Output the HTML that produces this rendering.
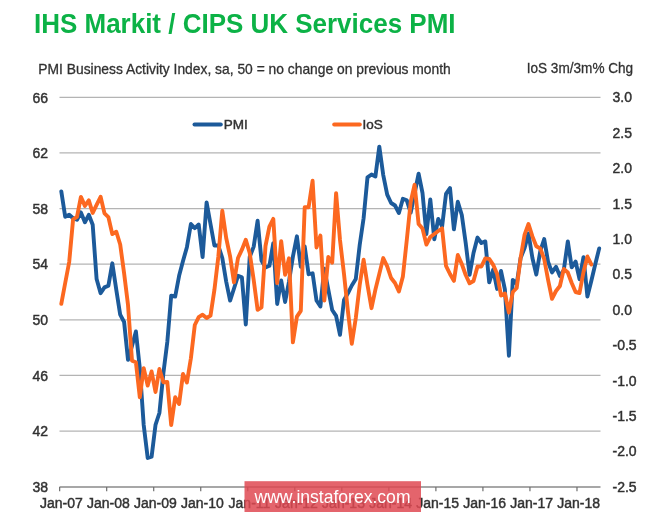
<!DOCTYPE html>
<html><head><meta charset="utf-8"><style>
html,body{margin:0;padding:0;background:#fff;width:665px;height:512px;overflow:hidden}
svg{display:block;filter:blur(0.55px);font-family:"Liberation Sans",sans-serif}
.ax{font-size:14px;fill:#303030;stroke:#363636;stroke-width:0.45px}
.lg{font-size:13.5px;fill:#303030;stroke:#363636;stroke-width:0.45px}
.title{font-size:27px;font-weight:bold;fill:#0cb246}
.hdr{font-size:14.2px;fill:#303030;stroke:#363636;stroke-width:0.3px}
.hdr2{font-size:14.3px;fill:#303030;stroke:#363636;stroke-width:0.3px}
.wm{font-size:18.5px;fill:#fff}
</style></head><body>
<svg width="665" height="512" viewBox="0 0 665 512">
<line x1="59.5" y1="97.30" x2="600.5" y2="97.30" stroke="#b4b4b4" stroke-width="1.3"/>
<line x1="59.5" y1="152.93" x2="600.5" y2="152.93" stroke="#b4b4b4" stroke-width="1.3"/>
<line x1="59.5" y1="208.56" x2="600.5" y2="208.56" stroke="#b4b4b4" stroke-width="1.3"/>
<line x1="59.5" y1="264.19" x2="600.5" y2="264.19" stroke="#b4b4b4" stroke-width="1.3"/>
<line x1="59.5" y1="319.82" x2="600.5" y2="319.82" stroke="#b4b4b4" stroke-width="1.3"/>
<line x1="59.5" y1="375.45" x2="600.5" y2="375.45" stroke="#b4b4b4" stroke-width="1.3"/>
<line x1="59.5" y1="431.08" x2="600.5" y2="431.08" stroke="#b4b4b4" stroke-width="1.3"/>
<line x1="59.5" y1="487.00" x2="600.5" y2="487.00" stroke="#8a8a8a" stroke-width="1.4"/>
<line x1="59.65" y1="487.00" x2="59.65" y2="491.30" stroke="#6e6e6e" stroke-width="1.2"/>
<line x1="106.68" y1="487.00" x2="106.68" y2="491.30" stroke="#6e6e6e" stroke-width="1.2"/>
<line x1="153.71" y1="487.00" x2="153.71" y2="491.30" stroke="#6e6e6e" stroke-width="1.2"/>
<line x1="200.74" y1="487.00" x2="200.74" y2="491.30" stroke="#6e6e6e" stroke-width="1.2"/>
<line x1="247.77" y1="487.00" x2="247.77" y2="491.30" stroke="#6e6e6e" stroke-width="1.2"/>
<line x1="294.80" y1="487.00" x2="294.80" y2="491.30" stroke="#6e6e6e" stroke-width="1.2"/>
<line x1="341.83" y1="487.00" x2="341.83" y2="491.30" stroke="#6e6e6e" stroke-width="1.2"/>
<line x1="388.86" y1="487.00" x2="388.86" y2="491.30" stroke="#6e6e6e" stroke-width="1.2"/>
<line x1="435.89" y1="487.00" x2="435.89" y2="491.30" stroke="#6e6e6e" stroke-width="1.2"/>
<line x1="482.92" y1="487.00" x2="482.92" y2="491.30" stroke="#6e6e6e" stroke-width="1.2"/>
<line x1="529.95" y1="487.00" x2="529.95" y2="491.30" stroke="#6e6e6e" stroke-width="1.2"/>
<line x1="576.98" y1="487.00" x2="576.98" y2="491.30" stroke="#6e6e6e" stroke-width="1.2"/>
<text x="48" y="102.60" text-anchor="end" class="ax">66</text>
<text x="48" y="158.23" text-anchor="end" class="ax">62</text>
<text x="48" y="213.86" text-anchor="end" class="ax">58</text>
<text x="48" y="269.49" text-anchor="end" class="ax">54</text>
<text x="48" y="325.12" text-anchor="end" class="ax">50</text>
<text x="48" y="380.75" text-anchor="end" class="ax">46</text>
<text x="48" y="436.38" text-anchor="end" class="ax">42</text>
<text x="48" y="492.01" text-anchor="end" class="ax">38</text>
<text x="612.5" y="102.30" class="ax">3.0</text>
<text x="612.5" y="137.70" class="ax">2.5</text>
<text x="612.5" y="173.10" class="ax">2.0</text>
<text x="612.5" y="208.50" class="ax">1.5</text>
<text x="612.5" y="243.90" class="ax">1.0</text>
<text x="612.5" y="279.30" class="ax">0.5</text>
<text x="612.5" y="314.71" class="ax">0.0</text>
<text x="612.5" y="350.11" class="ax">-0.5</text>
<text x="612.5" y="385.51" class="ax">-1.0</text>
<text x="612.5" y="420.91" class="ax">-1.5</text>
<text x="612.5" y="456.31" class="ax">-2.0</text>
<text x="612.5" y="491.71" class="ax">-2.5</text>
<text x="61.35" y="508.00" text-anchor="middle" class="ax">Jan-07</text>
<text x="108.38" y="508.00" text-anchor="middle" class="ax">Jan-08</text>
<text x="155.41" y="508.00" text-anchor="middle" class="ax">Jan-09</text>
<text x="202.44" y="508.00" text-anchor="middle" class="ax">Jan-10</text>
<text x="249.47" y="508.00" text-anchor="middle" class="ax">Jan-11</text>
<text x="296.50" y="508.00" text-anchor="middle" class="ax">Jan-12</text>
<text x="343.53" y="508.00" text-anchor="middle" class="ax">Jan-13</text>
<text x="390.56" y="508.00" text-anchor="middle" class="ax">Jan-14</text>
<text x="437.59" y="508.00" text-anchor="middle" class="ax">Jan-15</text>
<text x="484.62" y="508.00" text-anchor="middle" class="ax">Jan-16</text>
<text x="531.65" y="508.00" text-anchor="middle" class="ax">Jan-17</text>
<text x="578.68" y="508.00" text-anchor="middle" class="ax">Jan-18</text>
<polyline points="61.3,191.4 65.2,216.8 69.2,214.8 73.1,218.3 77.0,219.8 80.9,212.4 84.9,222.3 88.8,214.8 92.7,224.8 96.6,279.0 100.6,293.2 104.5,287.4 108.4,285.7 112.3,263.3 116.3,289.9 120.2,314.7 124.1,322.0 128.0,359.9 132.0,346.0 135.9,331.5 139.8,368.1 143.7,425.0 147.7,458.0 151.6,456.7 155.5,424.9 159.4,413.0 163.4,373.0 167.3,342.0 171.2,295.7 175.2,296.5 179.1,275.8 183.0,261.0 186.9,247.2 190.9,224.0 194.8,228.1 198.7,224.5 202.6,257.1 206.6,202.4 210.5,224.0 214.4,245.5 218.3,245.5 222.3,258.0 226.2,281.6 230.1,300.6 234.0,288.5 238.0,275.8 241.9,277.4 245.8,324.5 249.7,257.0 253.7,246.6 257.6,220.8 261.5,260.5 265.5,267.4 269.4,265.8 273.3,243.2 277.2,304.0 281.2,280.5 285.1,302.0 289.0,281.5 292.9,256.6 296.9,236.3 300.8,266.7 304.7,246.4 308.6,274.2 312.6,273.3 316.5,300.5 320.4,306.5 324.3,268.8 328.3,289.6 332.2,310.0 336.1,315.8 340.0,334.8 344.0,299.9 347.9,293.3 351.8,285.5 355.8,278.9 359.7,245.0 363.6,218.3 367.5,177.3 371.5,174.5 375.4,176.5 379.3,146.6 383.2,174.8 387.2,194.7 391.1,203.0 395.0,205.5 398.9,213.0 402.9,198.8 406.8,200.3 410.7,212.7 414.6,193.5 418.6,173.7 422.5,193.0 426.4,234.0 430.3,199.4 434.3,239.3 438.2,219.0 442.1,226.4 446.0,193.9 450.0,188.0 453.9,229.4 457.8,201.7 461.8,215.0 465.7,243.0 469.6,274.9 473.5,253.0 477.5,237.6 481.4,243.0 485.3,241.4 489.2,282.4 493.2,269.7 497.1,288.9 501.0,270.9 504.9,289.5 508.9,355.7 512.8,279.9 516.7,284.0 520.6,258.0 524.6,248.0 528.5,233.5 532.4,258.0 536.3,274.5 540.3,251.0 544.2,239.0 548.1,262.0 552.0,272.4 556.0,266.8 559.9,276.0 563.8,270.0 567.8,241.4 571.7,267.3 575.6,261.5 579.5,279.2 583.5,257.2 587.4,296.5 591.3,281.0 595.2,264.5 599.2,248.4" fill="none" stroke="#1c5a9a" stroke-width="3.9" stroke-linejoin="round" stroke-linecap="round"/>
<polyline points="61.3,303.9 65.2,283.0 69.2,262.0 73.1,219.3 77.0,216.8 80.9,196.9 84.9,205.9 88.8,200.4 92.7,212.9 96.6,204.9 100.6,196.8 104.5,213.4 108.4,217.1 112.3,234.1 116.3,231.7 120.2,244.5 124.1,273.3 128.0,304.8 132.0,360.7 135.9,362.3 139.8,397.2 143.7,368.1 147.7,385.6 151.6,371.5 155.5,392.0 159.4,369.0 163.4,382.2 167.3,382.0 171.2,425.0 175.2,397.2 179.1,404.0 183.0,374.0 186.9,382.5 190.9,358.2 194.8,325.0 198.7,317.2 202.6,314.7 206.6,318.0 210.5,315.6 214.4,289.9 218.3,257.0 222.3,210.7 226.2,238.0 230.1,256.3 234.0,282.4 238.0,258.0 241.9,249.7 245.8,239.7 249.7,253.0 253.7,280.0 257.6,309.8 261.5,307.3 265.5,246.0 269.4,226.6 273.3,218.9 277.2,283.1 281.2,241.3 285.1,274.8 289.0,258.3 292.9,342.3 296.9,316.6 300.8,310.8 304.7,207.3 308.6,207.3 312.6,180.8 316.5,247.5 320.4,235.5 324.3,300.5 328.3,257.0 332.2,262.6 336.1,193.2 340.0,240.0 344.0,274.0 347.9,311.0 351.8,343.8 355.8,318.0 359.7,285.0 363.6,259.8 367.5,285.0 371.5,308.2 375.4,289.6 379.3,273.9 383.2,258.1 387.2,266.4 391.1,278.0 395.0,283.0 398.9,291.5 402.9,276.4 406.8,239.9 410.7,202.0 414.6,184.8 418.6,224.0 422.5,228.5 426.4,244.5 430.3,237.0 434.3,234.0 438.2,231.0 442.1,228.4 446.0,265.8 450.0,274.0 453.9,280.9 457.8,255.0 461.8,264.0 465.7,275.0 469.6,283.3 473.5,281.0 477.5,266.5 481.4,266.5 485.3,258.4 489.2,258.9 493.2,264.8 497.1,274.0 501.0,295.5 504.9,293.5 508.9,312.5 512.8,292.0 516.7,288.0 520.6,258.0 524.6,234.7 528.5,224.0 532.4,236.4 536.3,246.3 540.3,248.5 544.2,259.0 548.1,280.0 552.0,298.8 556.0,291.0 559.9,286.0 563.8,269.0 567.8,272.5 571.7,283.0 575.6,292.0 579.5,293.0 583.5,272.0 587.4,256.5 591.3,264.4" fill="none" stroke="#fc6820" stroke-width="3.9" stroke-linejoin="round" stroke-linecap="round"/>
<line x1="194.5" y1="124.5" x2="220.8" y2="124.5" stroke="#1c5a9a" stroke-width="4" stroke-linecap="round"/>
<text x="223.8" y="129" class="lg">PMI</text>
<line x1="334.2" y1="124.5" x2="359.8" y2="124.5" stroke="#fc6820" stroke-width="4" stroke-linecap="round"/>
<text x="362.5" y="129" class="lg">IoS</text>
<text x="34" y="33.1" class="title" textLength="421.5" lengthAdjust="spacingAndGlyphs">IHS Markit / CIPS UK Services PMI</text>
<text x="38.3" y="74.0" class="hdr" textLength="412.5" lengthAdjust="spacingAndGlyphs">PMI Business Activity Index, sa, 50 = no change on previous month</text>
<text x="526.7" y="72.5" class="hdr2" textLength="106.5" lengthAdjust="spacingAndGlyphs">IoS 3m/3m% Chg</text>
<rect x="244.5" y="481.2" width="176.5" height="31" fill="rgb(223,73,82)" fill-opacity="0.85"/>
<text x="254.5" y="502.5" class="wm" textLength="156" lengthAdjust="spacingAndGlyphs">www.instaforex.com</text>
</svg>
</body></html>
